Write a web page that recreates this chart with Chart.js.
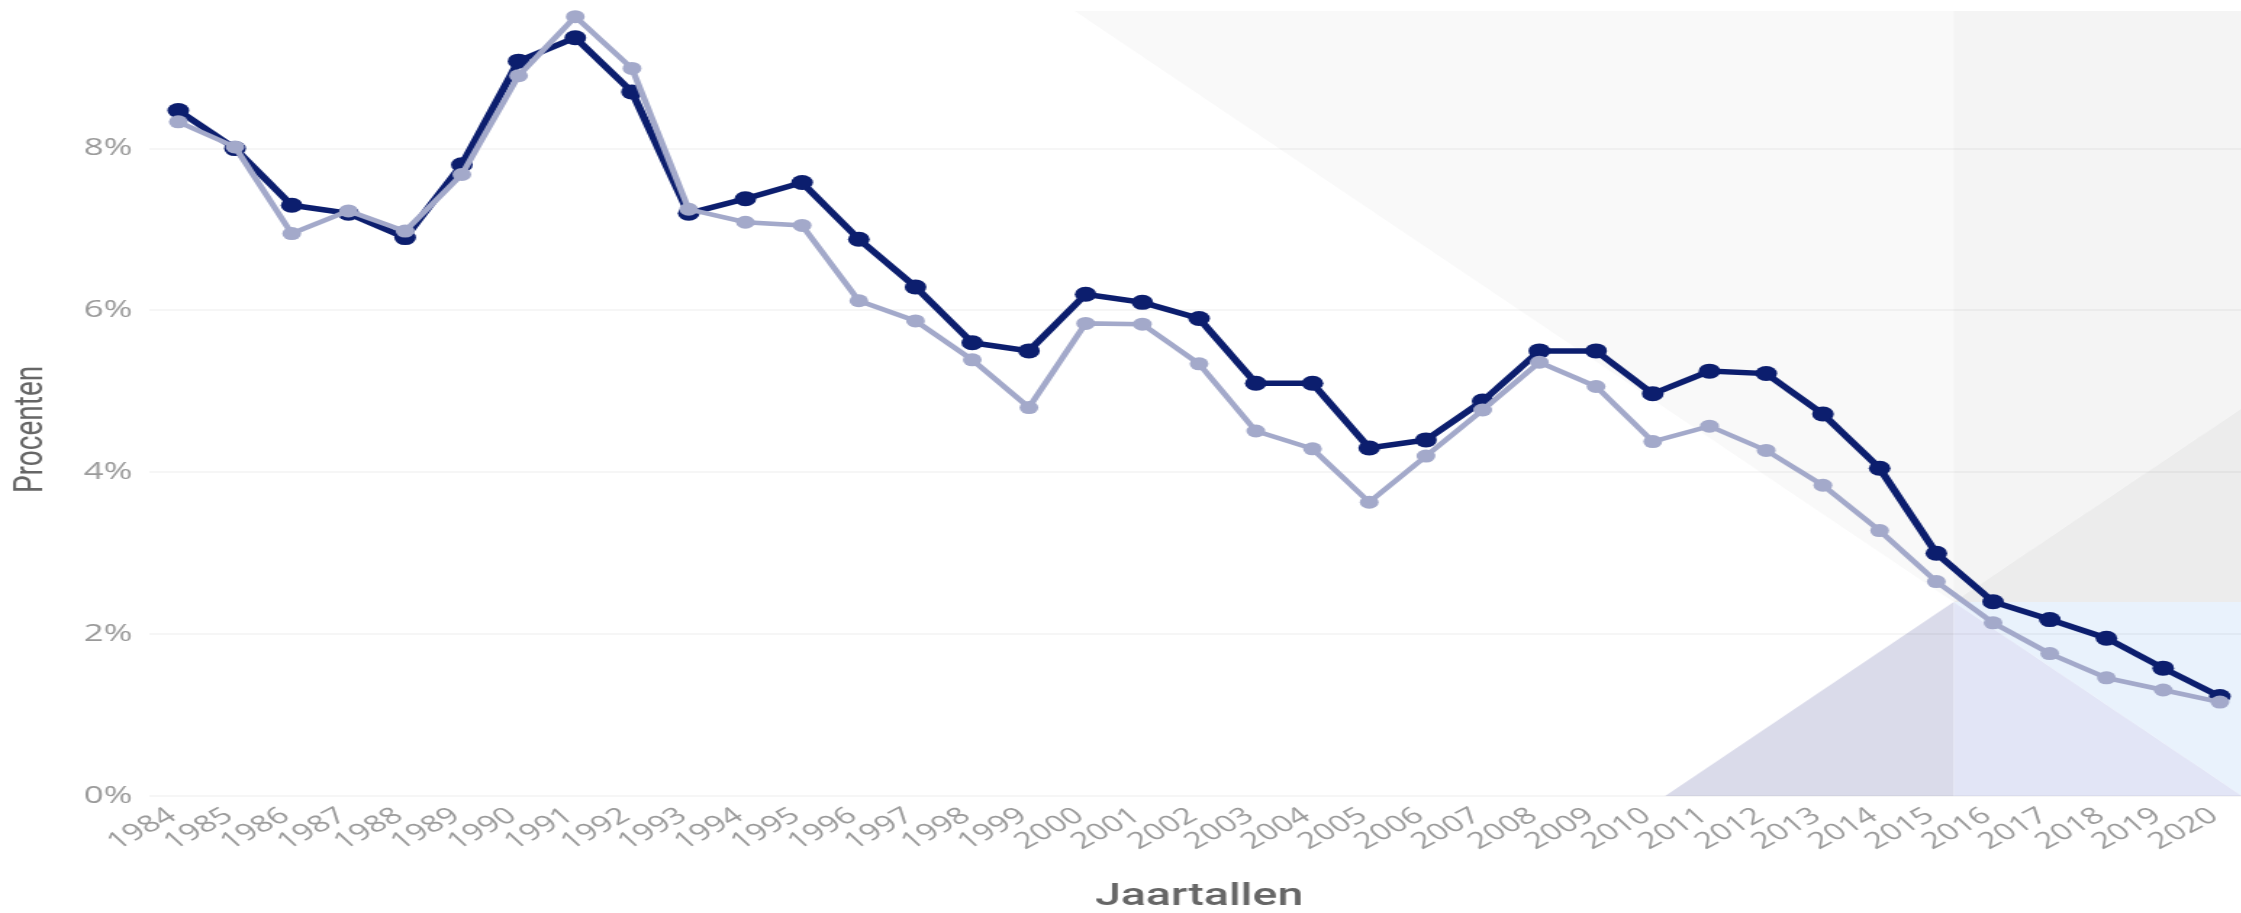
<!DOCTYPE html>
<html><head><meta charset="utf-8">
<script src="https://cdn.jsdelivr.net/npm/chart.js@4.4.0/dist/chart.umd.min.js"></script>
<style>
html,body{margin:0;padding:0;overflow:hidden;background:#fff;width:2241px;height:913px}
#wrap{position:absolute;left:0;top:0;width:1558px;height:913px;transform:scaleX(1.45);transform-origin:0 0}
</style></head><body>
<div id="wrap"><canvas id="c"></canvas></div>
<script>
const years = ['1984','1985','1986','1987','1988','1989','1990','1991','1992','1993','1994','1995','1996','1997','1998','1999','2000','2001','2002','2003','2004','2005','2006','2007','2008','2009','2010','2011','2012','2013','2014','2015','2016','2017','2018','2019','2020'];
const seriesDark = [8.47,8.0,7.3,7.2,6.9,7.8,9.08,9.37,8.7,7.2,7.38,7.58,6.88,6.29,5.6,5.5,6.2,6.1,5.9,5.1,5.1,4.3,4.4,4.88,5.5,5.5,4.97,5.25,5.22,4.72,4.05,3.0,2.4,2.18,1.95,1.58,1.23];
const seriesLight = [8.33,8.02,6.95,7.23,6.98,7.68,8.9,9.63,8.99,7.25,7.09,7.05,6.12,5.87,5.39,4.8,5.84,5.83,5.34,4.51,4.29,3.63,4.2,4.77,5.36,5.06,4.38,4.57,4.27,3.84,3.28,2.65,2.14,1.76,1.46,1.31,1.16];
const yTickValues = [0,2,4,6,8];
const yMax = 9.7;

// shift the vertical axis title a little down along its axis
const origLinearDrawTitle = Chart.LinearScale.prototype.drawTitle;
Chart.LinearScale.prototype.drawTitle = function(){
  const ctx = this.ctx;
  ctx.save();
  ctx.translate(0, 0.033 * (this.bottom - this.top));
  origLinearDrawTitle.call(this);
  ctx.restore();
};

const bgDecor = {
  id:'bgDecor',
  beforeDraw(chart){
    const {ctx, chartArea:ca} = chart;
    const L=ca.left, R=ca.right, T=ca.top, B=ca.bottom, W=R-L, H=B-T;
    const ax = L + 0.8596*W, ay = T + 0.7529*H;
    const xAtop = L + 0.4407*W;
    const k = (ay - T)/(ax - xAtop);
    const xA = y => ax + (y-ay)/k;
    const yB = x => ay - (x-ax)*k;
    const xB = y => ax - (y-ay)/k;
    const poly = (pts, col) => {
      ctx.beginPath(); ctx.moveTo(pts[0][0], pts[0][1]);
      for (let i=1;i<pts.length;i++) ctx.lineTo(pts[i][0], pts[i][1]);
      ctx.closePath(); ctx.fillStyle = col; ctx.fill();
    };
    ctx.save();
    ctx.beginPath(); ctx.rect(L, T, W, H); ctx.clip();
    poly([[xAtop,T],[ax,T],[ax,ay]], '#f9f9f9');
    poly([[ax,T],[R,T],[R,yB(R)],[ax,ay]], '#f4f4f4');
    poly([[ax,ay],[R,yB(R)],[R,ay]], '#ececec');
    const xab = Math.min(xA(B), R);
    poly([[ax,ay],[R,ay],[R,B],[xab,B]], '#e9f2fc');
    poly([[ax,ay],[xab,B],[ax,B]], '#e2e5f6');
    poly([[xB(B),B],[ax,ay],[ax,B]], '#dadbea');
    ctx.restore();
  }
};

new Chart(document.getElementById('c'), {
  type:'line',
  data:{
    labels: years,
    datasets:[
      {label:'B', data: seriesLight, borderColor:'#a3a9ca', backgroundColor:'#a3a9ca', pointBackgroundColor:'#a3a9ca', borderWidth:4.5, pointRadius:6.5, pointBorderWidth:0, tension:0, clip:false},
      {label:'A', data: seriesDark, borderColor:'#0c1e6e', backgroundColor:'#0c1e6e', pointBackgroundColor:'#0c1e6e', borderWidth:5.5, pointRadius:7.5, pointBorderWidth:0, tension:0, clip:false}
    ]
  },
  options:{
    responsive:true, maintainAspectRatio:false, animation:false,
    layout:{padding:{left:0,right:0,top:11,bottom:0}},
    plugins:{legend:{display:false}, tooltip:{enabled:false}},
    scales:{
      x:{
        type:'category', offset:true,
        grid:{display:false, drawTicks:false}, border:{display:false},
        ticks:{autoSkip:false, minRotation:37, maxRotation:37, padding:6, labelOffset:-4, color:'#9a9a9a', font:{family:'Open Sans', size:23}},
        title:{display:true, text:'Jaartallen', color:'#666666', font:{family:'Roboto', size:32, weight:'500', lineHeight:1}, padding:{top:0,bottom:0}},
        afterFit(s){ s.height = 117; s.paddingLeft = 0; s.paddingRight = 0; }
      },
      y:{
        min:0, max:yMax,
        grid:{color:'rgba(0,0,0,0.035)', lineWidth:2, drawTicks:false}, border:{display:false},
        ticks:{stepSize:2, padding:12, color:'#9a9a9a', font:{family:'Open Sans', size:24}, callback:v => v + '%'},
        afterBuildTicks(s){ s.ticks = s.ticks.filter(t => yTickValues.includes(t.value)); },
        title:{display:true, text:'Procenten', color:'#666666', font:{family:'Roboto', size:28, lineHeight:1}, padding:{top:8,bottom:0}},
        afterFit(s){ s.width = 103.4; s.paddingTop = 0; s.paddingBottom = 0; }
      }
    }
  },
  plugins:[bgDecor]
});
</script>
</body></html>
